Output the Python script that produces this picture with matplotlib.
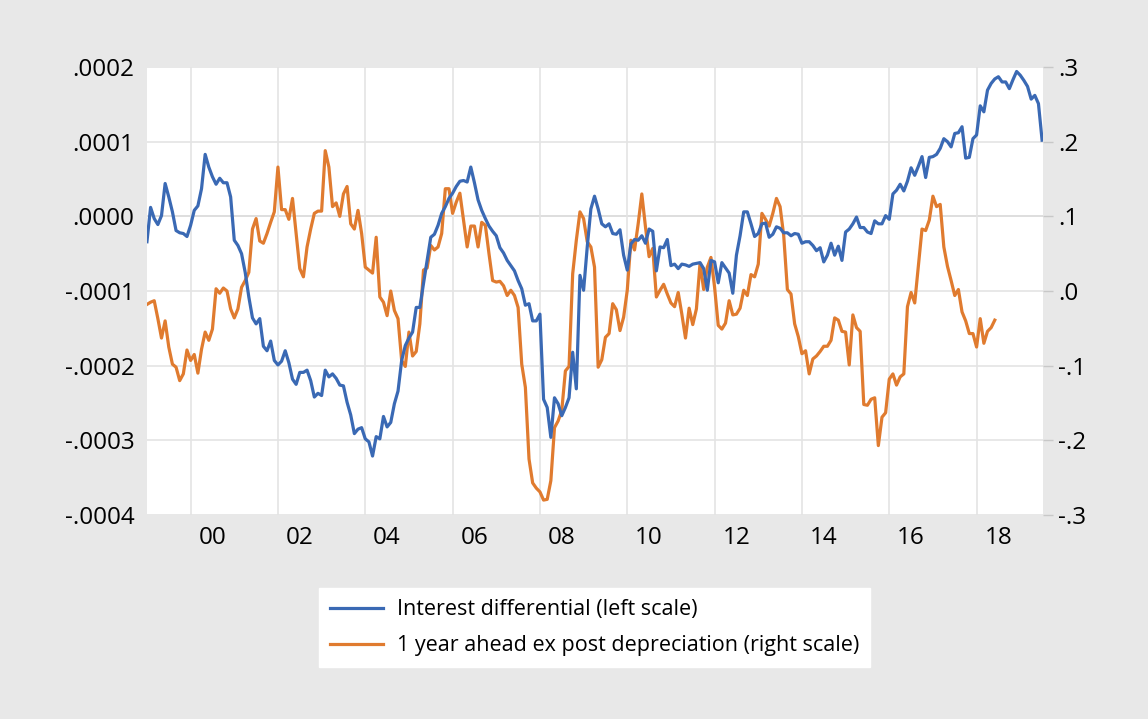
import matplotlib
matplotlib.use('Agg')

import numpy as np
import pandas as pd
import matplotlib.pyplot as plt
from matplotlib.ticker import FixedLocator, FixedFormatter

# -------------------
# Monthly data, starting Jan 1999
# -------------------
# interest differential, in units of 1e-4 (left scale)
interest_diff_e4 = [
    -0.34, 0.12, -0.03, -0.11, 0.01, 0.44, 0.26, 0.06, -0.19, -0.22,
    -0.23, -0.27, -0.12, 0.08, 0.14, 0.37, 0.83, 0.66, 0.53, 0.43,
    0.51, 0.45, 0.45, 0.26, -0.32, -0.39, -0.50, -0.75, -1.08, -1.36,
    -1.44, -1.37, -1.74, -1.80, -1.67, -1.93, -1.99, -1.94, -1.80, -1.96,
    -2.18, -2.25, -2.09, -2.09, -2.06, -2.20, -2.42, -2.37, -2.40, -2.06,
    -2.15, -2.11, -2.17, -2.26, -2.27, -2.49, -2.66, -2.91, -2.85, -2.83,
    -2.98, -3.02, -3.21, -2.95, -2.98, -2.68, -2.82, -2.76, -2.51, -2.34,
    -1.93, -1.73, -1.63, -1.55, -1.22, -1.22, -0.90, -0.59, -0.28, -0.24,
    -0.12, 0.04, 0.13, 0.24, 0.31, 0.40, 0.47, 0.48, 0.46, 0.66,
    0.45, 0.22, 0.08, -0.03, -0.13, -0.20, -0.26, -0.42, -0.49, -0.59,
    -0.66, -0.73, -0.86, -0.97, -1.19, -1.17, -1.40, -1.40, -1.31, -2.45,
    -2.56, -2.96, -2.43, -2.51, -2.67, -2.56, -2.43, -1.82, -2.31, -0.79,
    -0.99, -0.41, 0.10, 0.27, 0.10, -0.10,
    -0.14, -0.10, -0.23, -0.24, -0.18, -0.52, -0.72, -0.37, -0.31, -0.32,
    -0.26, -0.36, -0.17, -0.20, -0.73, -0.41, -0.42, -0.31, -0.66, -0.64,
    -0.70, -0.64, -0.65, -0.67, -0.64, -0.63, -0.62, -0.70, -0.99, -0.59,
    -0.61, -0.89, -0.62, -0.69, -0.76, -1.03, -0.52, -0.26, 0.06, 0.06,
    -0.10, -0.27, -0.23, -0.10, -0.09, -0.28, -0.24, -0.14, -0.16, -0.22,
    -0.22, -0.26, -0.23, -0.24, -0.36, -0.34, -0.34, -0.39, -0.46, -0.42,
    -0.61, -0.52, -0.36, -0.52, -0.40, -0.59, -0.21, -0.17, -0.10, -0.01,
    -0.15, -0.15, -0.21, -0.23, -0.06, -0.10, -0.10, 0.01, -0.04, 0.30,
    0.35, 0.43, 0.34, 0.47, 0.65, 0.55, 0.67, 0.80, 0.52, 0.79,
    0.80, 0.83, 0.91, 1.04, 1.00, 0.93, 1.11, 1.12, 1.20, 0.78,
    0.79, 1.04, 1.09, 1.48, 1.40, 1.69, 1.78, 1.84, 1.87, 1.80,
    1.80, 1.71, 1.83, 1.94, 1.89, 1.82, 1.74, 1.57, 1.62, 1.51,
    1.02,
]

# 1 year ahead ex post depreciation (right scale)
depreciation = [
    -0.018, -0.015, -0.013, -0.037, -0.063, -0.040, -0.075, -0.098, -0.102, -0.120,
    -0.111, -0.079, -0.093, -0.085, -0.110, -0.078, -0.055, -0.066, -0.051, 0.003,
    -0.003, 0.004, 0.000, -0.024, -0.036, -0.024, 0.005, 0.014, 0.025, 0.083,
    0.097, 0.067, 0.064, 0.077, 0.092, 0.106, 0.166, 0.109, 0.109, 0.096,
    0.124, 0.077, 0.030, 0.019, 0.059, 0.083, 0.104, 0.107, 0.107, 0.188,
    0.166, 0.113, 0.118, 0.100, 0.130, 0.140, 0.090, 0.083, 0.108, 0.077,
    0.032, 0.028, 0.024, 0.072, -0.008, -0.015, -0.033, 0.000, -0.026, -0.037,
    -0.093, -0.101, -0.055, -0.087, -0.081, -0.044, 0.028, 0.031, 0.061, 0.055,
    0.059, 0.077, 0.137, 0.137, 0.104, 0.119, 0.131, 0.095, 0.059, 0.087,
    0.087, 0.059, 0.092, 0.088, 0.050, 0.014, 0.012, 0.013, 0.007, -0.006,
    0.001, -0.006, -0.022, -0.098, -0.129, -0.225, -0.257, -0.264, -0.269, -0.280,
    -0.279, -0.254, -0.183, -0.174, -0.160, -0.107, -0.101, 0.023, 0.068, 0.106,
    0.097, 0.066, 0.059, 0.032, -0.102,
    -0.092, -0.062, -0.057, -0.017, -0.025, -0.053, -0.035, 0.001, 0.068, 0.055,
    0.090, 0.130, 0.086, 0.046, 0.057, -0.008, 0.001, 0.009, -0.004, -0.016,
    -0.021, -0.002, -0.031, -0.063, -0.023, -0.045, -0.024, 0.037, 0.002, 0.032,
    0.045, 0.005, -0.046, -0.051, -0.043, -0.013, -0.032, -0.031, -0.023, 0.001,
    -0.006, 0.022, 0.019, 0.036, 0.104, 0.096, 0.087, 0.104, 0.124, 0.113,
    0.074, 0.002, -0.004, -0.044, -0.061, -0.084, -0.080, -0.111, -0.091, -0.087,
    -0.081, -0.074, -0.074, -0.066, -0.036, -0.039, -0.054, -0.055, -0.099, -0.032,
    -0.049, -0.054, -0.152, -0.153, -0.145, -0.143, -0.207, -0.169, -0.163, -0.118,
    -0.111, -0.126, -0.115, -0.111, -0.021, -0.002, -0.016, 0.034, 0.083, 0.081,
    0.095, 0.127, 0.113, 0.116, 0.059, 0.033, 0.014, -0.006, 0.002, -0.028,
    -0.040, -0.057, -0.057, -0.075, -0.037, -0.070, -0.054, -0.049, -0.039,
]

left_ticks = [-0.0004, -0.0003, -0.0002, -0.0001, 0.0, 0.0001, 0.0002]
right_ticks = [-0.3, -0.2, -0.1, 0.0, 0.1, 0.2, 0.3]
year_ticks = list(range(2000, 2019, 2))
year_labels = ['00', '02', '04', '06', '08', '10', '12', '14', '16', '18']


def decimal_years(n):
    d = pd.date_range('1999-01-01', periods=n, freq='MS')
    return d.year + (d.month - 1) / 12.0


def strip_zero(v, digits):
    s = f'{v:.{digits}f}'
    if s.startswith('-') and float(s) == 0:
        s = s[1:]
    return s.replace('0.', '.', 1)


x_blue = decimal_years(len(interest_diff_e4))
x_orange = decimal_years(len(depreciation))
blue = np.array(interest_diff_e4) * 1e-4
orange = np.array(depreciation)

plt.rcParams['font.family'] = ['Open Sans', 'DejaVu Sans']

BG = '#e8e8e8'
BLUE = '#3a69b4'
ORANGE = '#e07b2f'
GRID = '#e4e4e4'
TICK_FS = 17.5

fig = plt.figure(figsize=(11.48, 7.19), dpi=100, facecolor=BG)
ax = fig.add_axes([0.128, 0.2837, 0.7805, 0.6231])
ax2 = ax.twinx()

# blue on top, orange + grid underneath
ax.set_zorder(2)
ax2.set_zorder(1)
ax.patch.set_visible(False)
ax2.patch.set_visible(True)
ax2.patch.set_facecolor('white')

ax2.plot(x_orange, orange, color=ORANGE, lw=2.3,
         label='1 year ahead ex post depreciation (right scale)')
ax.plot(x_blue, blue, color=BLUE, lw=2.3, label='Interest differential (left scale)')

ax.set_xlim(1999.0, 2019.52)
ax.set_ylim(-0.0004, 0.0002)
ax2.set_ylim(-0.3, 0.3)

# grid lives on the lower axes
ax2.xaxis.set_visible(True)
ax2.set_yticks(right_ticks)
ax2.grid(axis='y', color=GRID, lw=1.2)
ax2.grid(axis='x', which='major', color=GRID, lw=1.2)
ax2.axhline(0.1, color='#b4b4b4', lw=1.1, zorder=1.5)
ax2.tick_params(axis='x', which='both', length=0, labelbottom=False)

ax.xaxis.set_major_locator(FixedLocator(year_ticks))
ax.xaxis.set_major_formatter(FixedFormatter([''] * len(year_ticks)))
ax.xaxis.set_minor_locator(FixedLocator([y + 0.5 for y in year_ticks]))
ax.xaxis.set_minor_formatter(FixedFormatter(year_labels))
ax.tick_params(axis='x', which='both', length=0, pad=8, labelsize=TICK_FS)

ax.set_yticks(left_ticks)
ax.set_yticklabels([strip_zero(v, 4) for v in left_ticks])
ax.tick_params(axis='y', length=0, pad=9, labelsize=TICK_FS)

ax2.set_yticklabels([strip_zero(v, 1) for v in right_ticks])
ax2.tick_params(axis='y', length=7, width=1, color='#c8c8c8', pad=4, labelsize=TICK_FS)

for a in (ax, ax2):
    for s in a.spines.values():
        s.set_visible(False)

handles = [ax.get_lines()[0], ax2.get_lines()[0]]
leg = fig.legend(handles, [h.get_label() for h in handles],
                 loc='center', bbox_to_anchor=(0.518, 0.127),
                 fontsize=15.5, frameon=True, fancybox=False,
                 facecolor='white', edgecolor='white', framealpha=1,
                 handlelength=2.5, handletextpad=0.65, labelspacing=0.7,
                 borderpad=0.5, borderaxespad=0)

fig.savefig('out.png', dpi=100, facecolor=BG)
